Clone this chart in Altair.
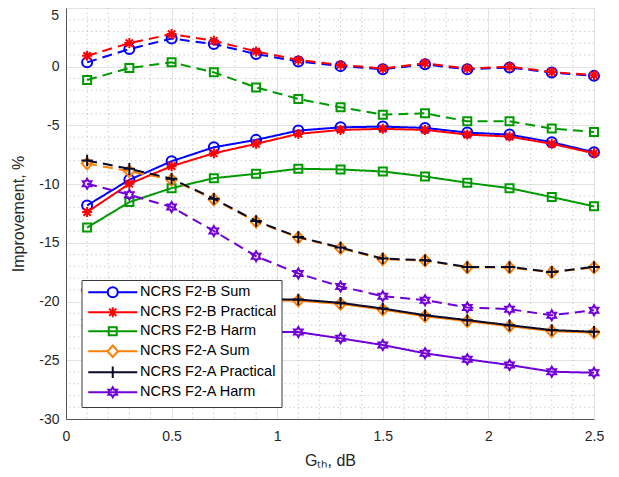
import altair as alt
import pandas as pd

# ---- data -------------------------------------------------------------
g_th = [0.1, 0.3, 0.5, 0.7, 0.9, 1.1, 1.3, 1.5, 1.7, 1.9, 2.1, 2.3, 2.5]

series_names = ["NCRS F2-B Sum", "NCRS F2-B Practical", "NCRS F2-B Harm",
                "NCRS F2-A Sum", "NCRS F2-A Practical", "NCRS F2-A Harm"]
series_colors = ["#0000ff", "#ff0000", "#009a00", "#ff8000", "#0a0a2a", "#7000d6"]

# solid curves
b_sum_solid = [-11.81, -9.63, -8.05, -6.86, -6.23, -5.44, -5.16, -5.10, -5.21, -5.61, -5.78, -6.43, -7.28]
b_prac_solid = [-12.38, -9.97, -8.47, -7.37, -6.57, -5.72, -5.38, -5.29, -5.38, -5.78, -5.95, -6.57, -7.37]
b_harm_solid = [-13.70, -11.53, -10.34, -9.49, -9.12, -8.69, -8.75, -8.92, -9.35, -9.88, -10.34, -11.10, -11.89]
a_sum_solid = [-19.1, -19.4, -19.6, -19.8, -19.9, -19.92, -20.2, -20.68, -21.25, -21.67, -22.1, -22.52, -22.65]
a_prac_solid = [-19.0, -19.3, -19.5, -19.7, -19.8, -19.82, -20.11, -20.59, -21.16, -21.58, -22.01, -22.43, -22.57]
a_harm_solid = [-21.8, -22.1, -22.3, -22.45, -22.55, -22.6, -23.13, -23.70, -24.41, -24.92, -25.40, -25.97, -26.06]

# dashed curves
b_sum_dash = [0.37, 1.50, 2.40, 1.93, 1.08, 0.45, 0.05, -0.22, 0.20, -0.22, -0.07, -0.50, -0.78]
b_prac_dash = [0.93, 2.01, 2.78, 2.21, 1.30, 0.57, 0.15, -0.15, 0.30, -0.15, 0.00, -0.45, -0.72]
b_harm_dash = [-1.13, -0.11, 0.37, -0.48, -1.76, -2.74, -3.46, -4.08, -3.97, -4.65, -4.65, -5.27, -5.55]
a_sum_dash = [-8.25, -8.90, -9.62, -11.30, -13.20, -14.55, -15.45, -16.40, -16.50, -17.10, -17.10, -17.50, -17.10]
a_prac_dash = [-7.99, -8.69, -9.54, -11.24, -13.14, -14.50, -15.40, -16.34, -16.48, -17.05, -17.05, -17.48, -17.05]
a_harm_dash = [-9.97, -10.90, -11.95, -13.99, -16.14, -17.61, -18.72, -19.54, -19.88, -20.50, -20.65, -21.16, -20.73]

solid_values = [b_sum_solid, b_prac_solid, b_harm_solid, a_sum_solid, a_prac_solid, a_harm_solid]
dash_values = [b_sum_dash, b_prac_dash, b_harm_dash, a_sum_dash, a_prac_dash, a_harm_dash]

x_major = [0, 0.5, 1, 1.5, 2, 2.5]
y_major = [5, 0, -5, -10, -15, -20, -25, -30]
y_top_label = [5]
x_minor = [0.1, 0.2, 0.3, 0.4, 0.6, 0.7, 0.8, 0.9, 1.1, 1.2, 1.3, 1.4, 1.6, 1.7, 1.8, 1.9,
           2.1, 2.2, 2.3, 2.4]
y_minor = [4, 3, 2, 1, -1, -2, -3, -4, -6, -7, -8, -9, -11, -12, -13, -14, -16, -17, -18, -19,
           -21, -22, -23, -24, -26, -27, -28, -29]

# ---- marker paths (unit coordinates) ----------------------------------
circle = "M-1,0A1,1 0 1,0 1,0A1,1 0 1,0 -1,0Z"
asterisk = "M0,-1V1M-1,0H1M-0.72,-0.72L0.72,0.72M-0.72,0.72L0.72,-0.72"
square = "M-0.8,-0.8H0.8V0.8H-0.8Z"
diamond = "M0,-1.15L1.05,0L0,1.15L-1.05,0Z"
plus = "M0,-1.15V1.15M-1.15,0H1.15"
hexagram = ("M0,-1L0.289,-0.5L0.866,-0.5L0.577,0L0.866,0.5L0.289,0.5L0,1L-0.289,0.5"
            "L-0.866,0.5L-0.577,0L-0.866,-0.5L-0.289,-0.5Z")
markers = [circle, asterisk, square, diamond, plus, hexagram]
legend_lines = ["M-4.9,0H-1M1,0H4.9", "M-4.9,0H4.9", "M-4.9,0H4.9",
                "M-4.9,0H-1.05M1.05,0H4.9", "M-4.9,0H4.9", "M-4.9,0H4.9"]
legend_shapes = [l + m for l, m in zip(legend_lines, markers)]

# ---- frames -----------------------------------------------------------
rows = []
for name, sv, dv in zip(series_names, solid_values, dash_values):
    for xv, yv in zip(g_th, sv):
        rows.append({"x": xv, "y": yv, "series": name, "cond": "solid"})
    for xv, yv in zip(g_th, dv):
        rows.append({"x": xv, "y": yv, "series": name, "cond": "dashed"})
df = pd.DataFrame(rows)

xscale = alt.Scale(domain=[0, 2.5], nice=False, zero=False)
yscale = alt.Scale(domain=[-30, 5], nice=False, zero=False)

FONT = "Liberation Sans"
TXT = "#262626"
xaxis = alt.Axis(values=x_major, grid=True, gridColor="#e2e2e2", ticks=False,
                 domainColor="#555555", labelFont=FONT, labelFontSize=14,
                 labelColor=TXT, labelPadding=10, labelFlush=False,
                 labelExpr="'' + datum.value", title="Gₜₕ, dB",
                 titleFont=FONT, titleFontSize=16, titleFontWeight="normal",
                 titleColor=TXT, titlePadding=9)
yaxis = alt.Axis(values=y_major, grid=True, gridColor="#e2e2e2", ticks=False,
                 domainColor="#555555", labelFont=FONT, labelFontSize=14,
                 labelColor=TXT, labelPadding=7, labelFlush=False,
                 labelExpr="datum.value == 5 ? '' : '' + datum.value",
                 title="Improvement, %", titleFont=FONT, titleFontSize=16,
                 titleFontWeight="normal", titleColor=TXT, titlePadding=12)

base_x = alt.X("x:Q", scale=xscale, axis=xaxis)
base_y = alt.Y("y:Q", scale=yscale, axis=yaxis)

layers = []

# minor grid (dotted)
xminor_df = pd.DataFrame({"x": x_minor})
yminor_df = pd.DataFrame({"y": y_minor})
layers.append(alt.Chart(xminor_df).mark_rule(color="#c4c4c4", strokeWidth=1,
                                              strokeDash=[1.2, 3.2]).encode(x=base_x))
layers.append(alt.Chart(yminor_df).mark_rule(color="#c4c4c4", strokeWidth=1,
                                              strokeDash=[1.2, 3.2]).encode(y=base_y))

# top tick label "5", nudged down so it is not cut at the page edge
top_df = pd.DataFrame({"y": y_top_label})
layers.append(alt.Chart(top_df).mark_text(
    align="right", baseline="top", font=FONT, fontSize=14, color=TXT, dx=-7, dy=1
).encode(x=alt.value(0), y=base_y, text=alt.Text("y:Q")))

dash_scale = alt.Scale(domain=["solid", "dashed"], range=[[1, 0], [10, 6]])

for name, col, mk in zip(series_names, series_colors, markers):
    sub = df[df["series"] == name]
    line = alt.Chart(sub).mark_line(color=col, strokeWidth=2).encode(
        x=base_x, y=base_y,
        strokeDash=alt.StrokeDash("cond:N", scale=dash_scale, legend=None),
        detail="cond:N",
    )
    pts = alt.Chart(sub).mark_point(shape=mk, color=col, size=100, strokeWidth=2,
                                    filled=False, opacity=1).encode(x=base_x, y=base_y)
    layers += [line, pts]

legend = alt.Legend(orient="none", legendX=15.5, legendY=272, title=None,
                    fillColor="white", strokeColor="#3a3a3a", padding=5,
                    rowPadding=1, symbolSize=100, symbolStrokeWidth=2,
                    symbolOffset=19, labelOffset=20, labelFont=FONT,
                    labelFontSize=14.5, labelColor="black", labelLimit=400)

legend_df = pd.DataFrame({"series": series_names})
leg_layer = alt.Chart(legend_df).mark_point(filled=False, size=100, strokeWidth=2,
                                             opacity=1).encode(
    color=alt.Color("series:N", scale=alt.Scale(domain=series_names, range=series_colors),
                    legend=legend),
    shape=alt.Shape("series:N", scale=alt.Scale(domain=series_names, range=legend_shapes),
                    legend=legend),
).transform_filter("false")
layers.append(leg_layer)

chart = alt.layer(*layers).properties(
    width=528, height=411,
    autosize=alt.AutoSizeParams(type="none"),
    padding={"left": 58, "top": 0, "right": 17, "bottom": 50},
).configure_view(stroke="#d6d6d6", strokeWidth=1)

chart.save("out.html", embed_options={"renderer": "svg", "actions": False})
